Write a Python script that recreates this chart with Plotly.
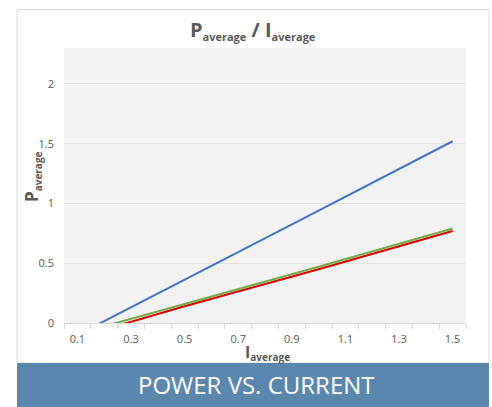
import plotly.graph_objects as go

# Data
i_avg = [0.1, 0.5, 1.0, 1.5]
p_blue = [-0.10, 0.36, 0.94, 1.52]
p_green = [-0.09, 0.16, 0.47, 0.79]
p_red = [-0.12, 0.14, 0.45, 0.77]
x_ticks = [0.1, 0.3, 0.5, 0.7, 0.9, 1.1, 1.3, 1.5]
y_ticks = [0, 0.5, 1, 1.5, 2]

FONT = "Open Sans"
GRAY = "#595959"

fig = go.Figure()
fig.add_trace(go.Scatter(x=i_avg, y=p_blue, mode="lines",
                         line=dict(color="#4472C4", width=2)))
fig.add_trace(go.Scatter(x=i_avg, y=p_red, mode="lines",
                         line=dict(color="#E00000", width=2)))
fig.add_trace(go.Scatter(x=i_avg, y=p_green, mode="lines",
                         line=dict(color="#70AD47", width=2)))

W, H = 492, 407
L, R, T, B = 64, 26, 48, 84
pw, ph = W - L - R, H - T - B

def px(x):
    return (x - L) / pw

def py(y):
    return (H - B - y) / ph

fig.update_layout(
    width=W, height=H,
    margin=dict(l=L, r=R, t=T, b=B),
    paper_bgcolor="white",
    plot_bgcolor="#F2F2F2",
    showlegend=False,
    font=dict(family=FONT, color=GRAY, size=11),
    xaxis=dict(range=[0.05, 1.55], tickvals=x_ticks,
               ticktext=[str(v) for v in x_ticks],
               showgrid=False, zeroline=False, showline=True,
               linecolor="#D9D9D9", linewidth=1,
               ticks="", ticklabelstandoff=6,
               minor=dict(tick0=0.05, dtick=0.1, ticks="outside",
                          ticklen=5, tickcolor="#D9D9D9", showgrid=False),
               tickfont=dict(size=11, color=GRAY), fixedrange=True),
    yaxis=dict(range=[0, 2.3], tickvals=y_ticks,
               ticktext=["0", "0.5", "1", "1.5", "2"],
               showgrid=True, gridcolor="#E2E2E2", gridwidth=1,
               zeroline=False, showline=False, ticks="",
               ticklabelstandoff=9,
               tickfont=dict(size=11, color=GRAY), fixedrange=True),
    shapes=[
        dict(type="rect", xref="paper", yref="paper",
             x0=px(17), x1=px(489), y0=py(363), y1=py(9.5),
             line=dict(color="#D9D9D9", width=1), fillcolor="rgba(0,0,0,0)",
             layer="above"),
        dict(type="rect", xref="paper", yref="paper",
             x0=px(17), x1=px(489), y0=py(408), y1=py(363),
             line=dict(width=0), fillcolor="#5A87AE", layer="above"),
    ],
    annotations=[
        dict(text="<b>P<sub><span style='font-size:11px'>average</span></sub> / I<sub><span style='font-size:11px'>average</span></sub></b>",
             xref="paper", yref="paper", x=px(253), y=py(30),
             showarrow=False, font=dict(size=20, color=GRAY, family=FONT),
             xanchor="center", yanchor="middle"),
        dict(text="<b>P<sub><span style='font-size:10px'>average</span></sub></b>",
             xref="paper", yref="paper", x=px(32), y=py(177),
             showarrow=False, textangle=-90,
             font=dict(size=17, color=GRAY, family=FONT),
             xanchor="center", yanchor="middle"),
        dict(text="<b>I<sub><span style='font-size:10px'>average</span></sub></b>",
             xref="paper", yref="paper", x=px(267), y=py(352),
             showarrow=False, font=dict(size=16, color=GRAY, family=FONT),
             xanchor="center", yanchor="middle"),
        dict(text="POWER VS. CURRENT",
             xref="paper", yref="paper", x=px(256), y=py(384),
             showarrow=False, font=dict(size=24, color="white", family=FONT),
             xanchor="center", yanchor="middle"),
    ],
)

fig.write_html("out.html", config={"displayModeBar": False},
               post_script="document.body.style.margin='0';document.body.style.overflow='hidden';")
